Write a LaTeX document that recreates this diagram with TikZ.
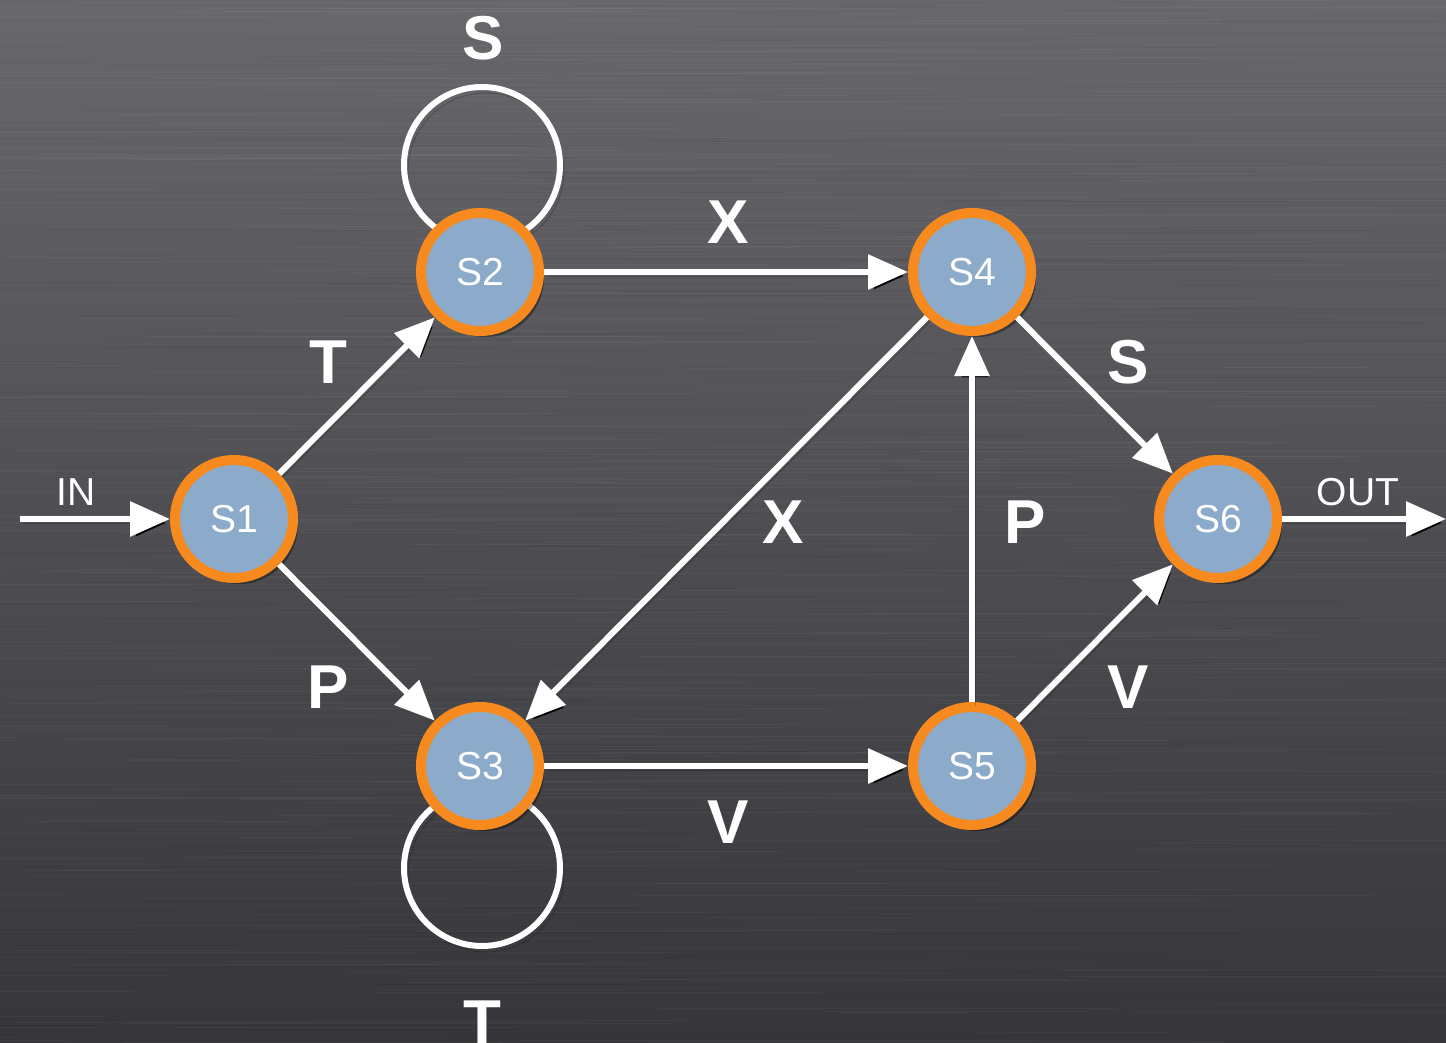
\documentclass[tikz,border=0pt]{standalone}
\usepackage{fontspec}
\setmainfont{Liberation Sans}
\usetikzlibrary{arrows.meta,shadows}
\definecolor{bgtop}{RGB}{104,104,108}
\definecolor{bgbot}{RGB}{54,54,58}
\definecolor{nodefill}{RGB}{140,170,201}
\definecolor{nodeorange}{RGB}{246,138,30}
\begin{document}
\begin{tikzpicture}[x=0.5pt,y=-0.5pt,
  state/.style={circle,draw=nodeorange,fill=nodefill,line width=5pt,minimum size=59pt,inner sep=0pt,
    text=white,font=\fontsize{19.5}{22}\selectfont,
    drop shadow={shadow xshift=2.5pt,shadow yshift=-3pt,opacity=0.35,fill=black}},
  edge/.style={draw=white,line width=3pt,-{Triangle[length=20pt,width=17pt]},
    preaction={draw=black,draw opacity=0.22,transform canvas={shift={(1.5pt,-2pt)}}}},
  loopline/.style={draw=white,line width=3pt,
    preaction={draw=black,draw opacity=0.22,transform canvas={shift={(2pt,-3pt)}}}},
  lbl/.style={text=white,font=\bfseries\fontsize{31}{36}\selectfont,inner sep=0pt},
  io/.style={text=white,font=\fontsize{19.5}{22}\selectfont,inner sep=0pt}]
\useasboundingbox (0,0) rectangle (1446,1043);
\fill[top color=bgtop,bottom color=bgbot] (0,0) rectangle (1446,1043);
% brushed texture
\pgfmathsetseed{7}
\foreach \i in {1,...,900}{
  \pgfmathsetmacro\yy{rnd*1043}
  \pgfmathsetmacro\xa{rnd*1446-200}
  \pgfmathsetmacro\ll{100+rnd*500}
  \pgfmathsetmacro\cc{mod(\i,2)==0 ? "white" : "black"}
  \draw[line width=0.5pt,draw=\cc,draw opacity=0.035] (\xa,\yy) -- ++(\ll,0);
}
% loop centres
\coordinate (loopS2) at (482,165);
\coordinate (loopS3) at (482,868);
\draw[loopline] (loopS2) circle[radius=39pt];
\draw[loopline] (loopS3) circle[radius=39pt];
% states
\node[state] (S1) at (234,519) {S1};
\node[state] (S2) at (480,272) {S2};
\node[state] (S3) at (480,766) {S3};
\node[state] (S4) at (972,272) {S4};
\node[state] (S5) at (972,766) {S5};
\node[state] (S6) at (1218,519) {S6};
% in / out
\coordinate (inS) at (20,519);
\coordinate (outE) at (1446,519);
\draw[edge] (inS) -- (S1);
\draw[edge] (S6) -- (outE);
% transitions
\draw[edge] (S1) -- (S2);
\draw[edge] (S1) -- (S3);
\draw[edge] (S2) -- (S4);
\draw[edge] (S3) -- (S5);
\draw[edge] (S4) -- (S3);
\draw[edge] (S5) -- (S4);
\draw[edge] (S4) -- (S6);
\draw[edge] (S5) -- (S6);
% labels
\node[io] (lin) at (76,492) {IN};
\node[io] (lout) at (1358,492) {OUT};
\node[lbl] (l1) at (483,38) {S};
\node[lbl] (l2) at (328,362) {T};
\node[lbl] (l3) at (728,222) {X};
\node[lbl] (l4) at (1128,362) {S};
\node[lbl] (l5) at (783,522) {X};
\node[lbl] (l6) at (1025,522) {P};
\node[lbl] (l7) at (328,687) {P};
\node[lbl] (l8) at (1128,687) {V};
\node[lbl] (l9) at (728,822) {V};
\node[lbl] (l10) at (482,1022) {T};
\end{tikzpicture}
\end{document}
